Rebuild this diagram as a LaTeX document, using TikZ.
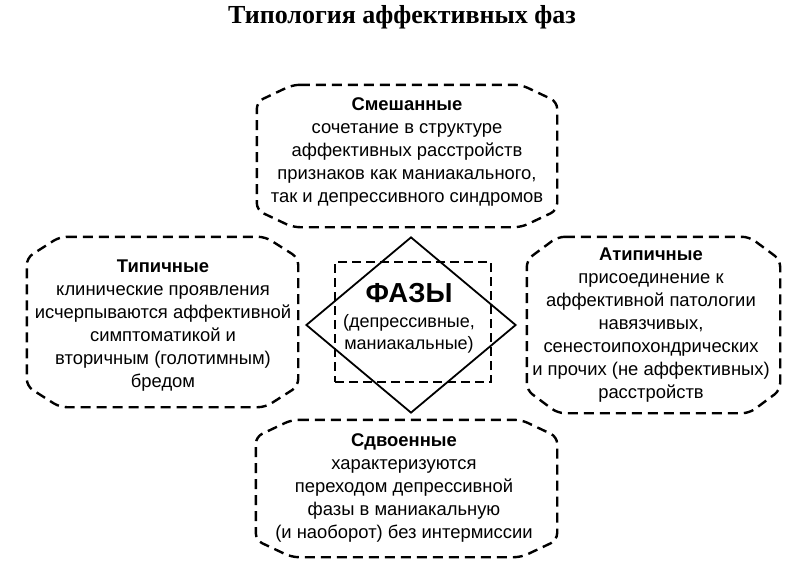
\documentclass[tikz,border=0pt]{standalone}
\usepackage{fontspec}
\setmainfont{Liberation Sans}
\newfontfamily\titlefont{Liberation Serif}
\usetikzlibrary{shapes.geometric}
\newcommand\chamferbox[3]{%
  \draw[boxline] ([xshift=#2]#1.north west) -- ([xshift=-#2]#1.north east)
    -- ([yshift=-#3]#1.north east) -- ([yshift=#3]#1.south east)
    -- ([xshift=-#2]#1.south east) -- ([xshift=#2]#1.south west)
    -- ([yshift=#3]#1.south west) -- ([yshift=-#3]#1.north west) -- cycle;}
\begin{document}
\begin{tikzpicture}[x=1pt,y=-1pt,
  txt/.style={font=\fontsize{18.4}{23}\selectfont, align=center, inner sep=0pt},
  frame/.style={inner sep=0pt},
  boxline/.style={line width=2.4pt, dash pattern=on 10pt off 6pt, rounded corners=7pt},
  corebox/.style={draw, line width=2pt, dash pattern=on 9pt off 5pt, inner sep=0pt},
  diam/.style={draw, diamond, line width=1.8pt, inner sep=0pt}]
\useasboundingbox[fill=white] (0,0) rectangle (798,563);
\node[font=\titlefont\bfseries\fontsize{26}{30}\selectfont, inner sep=0pt, anchor=base] (title) at (402,23) {Типология аффективных фаз};
% center
\node[diam, minimum width=210pt, minimum height=176pt] (dia) at (411,325) {};
\node[corebox, minimum width=156pt, minimum height=120pt] (core) at (413,322) {};
\node[txt, font=\fontsize{18}{21.5}\selectfont] (coretext) at (409,318)
  {\textbf{\fontsize{27.5}{30}\selectfont ФАЗЫ}\\[4pt]
   (депрессивные,\\маниакальные)};
% box frames
\node[frame, minimum width=300pt, minimum height=142pt] (mixbox) at (407,156) {};
\node[frame, minimum width=271pt, minimum height=170pt] (typbox) at (162.5,322) {};
\node[frame, minimum width=253pt, minimum height=176pt] (atypbox) at (653.5,325) {};
\node[frame, minimum width=301pt, minimum height=137pt] (dblbox) at (406.5,488.5) {};
\chamferbox{mixbox}{36pt}{17pt}
\chamferbox{typbox}{33pt}{21pt}
\chamferbox{atypbox}{31pt}{23pt}
\chamferbox{dblbox}{36pt}{17pt}
% texts
\node[txt] (mix) at (407,152)
  {\textbf{Смешанные}\\сочетание в структуре\\аффективных расстройств\\признаков как маниакального,\\так и депрессивного синдромов};
\node[txt] (typ) at (163,326)
  {\textbf{Типичные}\\клинические проявления\\исчерпываются аффективной\\симптоматикой и\\вторичным (голотимным)\\бредом};
\node[txt] (atyp) at (651,325)
  {\textbf{Атипичные}\\присоединение к\\аффективной патологии\\навязчивых,\\сенестоипохондрических\\и прочих (не аффективных)\\расстройств};
\node[txt] (dbl) at (404,487.5)
  {\textbf{Сдвоенные}\\характеризуются\\переходом депрессивной\\фазы в маниакальную\\(и наоборот) без интермиссии};
\end{tikzpicture}
\end{document}
